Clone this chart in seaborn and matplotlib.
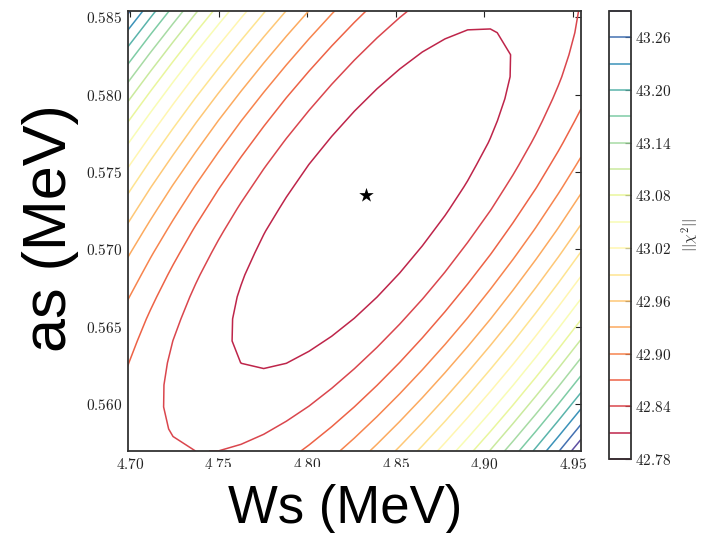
import numpy as np
import matplotlib
matplotlib.use("Agg")
import matplotlib.pyplot as plt
import seaborn as sns
from matplotlib.ticker import FixedLocator, FuncFormatter

# ---- values ----
ws_range = [4.6987, 4.9545]          # x extent of the scan (MeV)
as_range = [0.55698, 0.58543]        # y extent of the scan (MeV)
n_grid = [21, 21]                    # scan points per axis (coarse grid)
chi2_min = [42.785]                  # minimum of ||chi^2||
chi2_centre = [4.836, 0.5733]        # centre of the chi^2 valley
# curvature of chi^2 around the minimum (d ws^2, d ws d as, d as^2)
hess_ww = [10.62]
hess_wa = [-120.7]
hess_aa = [547.8]
best_fit_ws = [4.833]
best_fit_as = [0.5735]
levels = [42.78, 42.81, 42.84, 42.87, 42.90, 42.93, 42.96, 42.99, 43.02,
          43.05, 43.08, 43.11, 43.14, 43.17, 43.20, 43.23, 43.26, 43.29]
x_ticks = [4.70, 4.75, 4.80, 4.85, 4.90, 4.95]
y_ticks = [0.560, 0.565, 0.570, 0.575, 0.580, 0.585]
cbar_ticks = [42.78, 42.84, 42.90, 42.96, 43.02, 43.08, 43.14, 43.20, 43.26]

sns.set_theme(style="white")
plt.rcParams["mathtext.fontset"] = "cm"
plt.rcParams["font.family"] = ["DejaVu Sans"]

ws = np.linspace(ws_range[0], ws_range[1], n_grid[0])
as_ = np.linspace(as_range[0], as_range[1], n_grid[1])
W, A = np.meshgrid(ws, as_)
dW = W - chi2_centre[0]
dA = A - chi2_centre[1]
Z = chi2_min[0] + hess_ww[0] * dW**2 + hess_wa[0] * dW * dA + hess_aa[0] * dA**2

fig = plt.figure(figsize=(7.06, 5.33), dpi=100)
ax = fig.add_axes([127.7 / 706, 1 - 451 / 533, (581 - 127.7) / 706, (451 - 10.7) / 533])
cax = fig.add_axes([609 / 706, 1 - 459 / 533, 22 / 706, (459 - 11) / 533])

cs = ax.contour(W, A, Z, levels=levels, cmap="Spectral", linewidths=1.1)
sns.scatterplot(x=best_fit_ws, y=best_fit_as, marker="*", s=120, color="black",
                linewidth=0, ax=ax, zorder=5)

ax.set_xlim(ws_range)
ax.set_ylim(as_range)

fmt3 = FuncFormatter(lambda v, p: r"$%.3f$" % v)
fmt2 = FuncFormatter(lambda v, p: r"$%.2f$" % v)
ax.xaxis.set_major_locator(FixedLocator(x_ticks))
ax.yaxis.set_major_locator(FixedLocator(y_ticks))
ax.xaxis.set_major_formatter(fmt2)
ax.yaxis.set_major_formatter(fmt3)
ax.tick_params(direction="in", top=True, right=True, length=4, width=0.8,
               labelsize=11, colors="#222222", pad=4)
for sp in ax.spines.values():
    sp.set_color("#333333")
    sp.set_linewidth(1.3)

ax.set_xlabel("Ws (MeV)", fontsize=38, family=["Liberation Sans"], labelpad=9,
              color="black",
              bbox=dict(facecolor="white", edgecolor="none", boxstyle="square,pad=0.33"))
ax.xaxis.label.set_x(0.479)
ax.set_ylabel("as (MeV)", fontsize=44, family=["Liberation Sans"], labelpad=5,
              color="black")
ax.yaxis.label.set_y(0.506)

cb = fig.colorbar(cs, cax=cax, ticks=cbar_ticks)
cb.ax.yaxis.set_major_formatter(fmt2)
cb.ax.tick_params(direction="in", length=4, width=0.8, labelsize=11,
                  colors="#222222", pad=3)
cb.outline.set_edgecolor("#333333")
cb.outline.set_linewidth(1.3)
cb.set_label(r"$||\chi^2||$", fontsize=11, labelpad=6)

fig.savefig("out.png", dpi=100)
